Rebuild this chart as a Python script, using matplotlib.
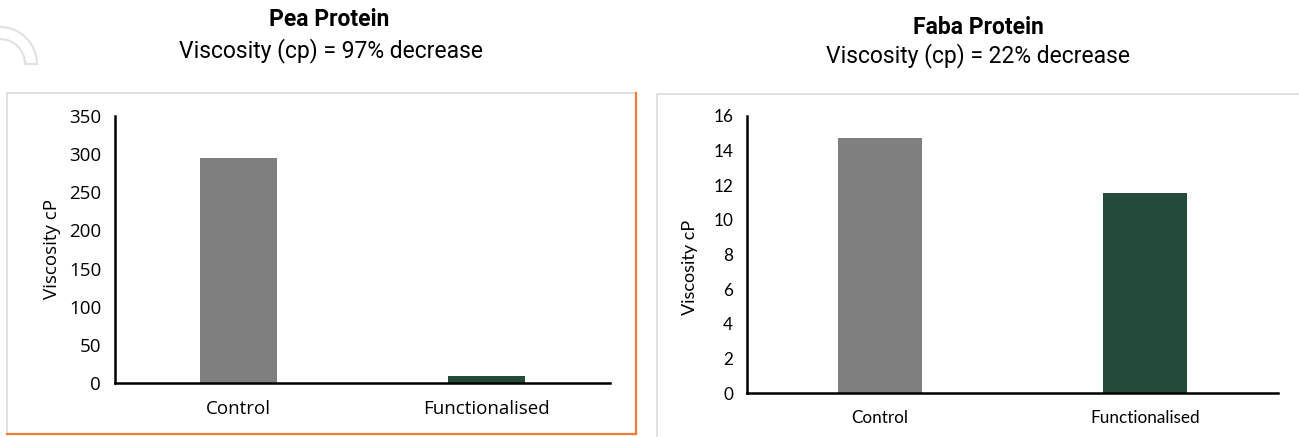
import matplotlib.pyplot as plt
from matplotlib.patches import Rectangle, Arc
from matplotlib.lines import Line2D

categories = ["Control", "Functionalised"]
pea_viscosity = [295, 9]
faba_viscosity = [14.75, 11.55]
pea_ticks = [0, 50, 100, 150, 200, 250, 300, 350]
faba_ticks = [0, 2, 4, 6, 8, 10, 12, 14, 16]

bar_colors = ["#7f7f7f", "#244a3a"]
W, H = 1299, 437


def fx(px):
    return px / W


def fy(py):
    return 1 - py / H


def draw_panel(ax, values, ticks, width, font, tick_size, label_size):
    ax.bar(range(len(categories)), values, width=width, color=bar_colors, zorder=2)
    ax.set_xlim(-0.5, 1.5)
    ax.set_ylim(ticks[0], ticks[-1])
    ax.set_yticks(ticks)
    ax.set_xticks(range(len(categories)))
    ax.set_xticklabels(categories, fontsize=tick_size, family=font)
    for lab in ax.get_yticklabels():
        lab.set_family(font)
        lab.set_fontsize(tick_size)
    ax.tick_params(length=0, pad=10)
    ax.tick_params(axis="x", pad=12)
    for side in ["top", "right"]:
        ax.spines[side].set_visible(False)
    for side in ["left", "bottom"]:
        ax.spines[side].set_linewidth(1.8)
        ax.spines[side].set_zorder(3)
    ax.set_ylabel("Viscosity cP", fontsize=label_size, family=font, labelpad=6)
    ax.set_facecolor("none")


fig = plt.figure(figsize=(12.99, 4.37), dpi=100)

# panel frames
fig.add_artist(Rectangle((fx(7), fy(434)), fx(629), 341 / H, transform=fig.transFigure,
                         facecolor="white", edgecolor="#dcdcdc", linewidth=1.2, zorder=0))
fig.add_artist(Line2D([fx(636), fx(636)], [fy(93), fy(434)], transform=fig.transFigure,
                      color="#ed7d31", linewidth=1.6))
fig.add_artist(Line2D([fx(7), fx(636)], [fy(434), fy(434)], transform=fig.transFigure,
                      color="#ed7d31", linewidth=1.6))
fig.add_artist(Rectangle((fx(657), fy(440)), fx(650), 346 / H, transform=fig.transFigure,
                         facecolor="white", edgecolor="#dcdcdc", linewidth=1.2, zorder=0))

# faint curved band in the top-left corner
for r in (25, 37):
    fig.add_artist(Arc((fx(0), fy(64)), fx(2 * r), 2 * r / H, theta1=0, theta2=90,
                       transform=fig.transFigure, color="#e2e2e2", linewidth=1.6))
fig.add_artist(Line2D([fx(25), fx(37)], [fy(64), fy(64)], transform=fig.transFigure,
                      color="#e2e2e2", linewidth=1.6))

ax1 = fig.add_axes([fx(115), fy(383), fx(495), 267 / H])
draw_panel(ax1, pea_viscosity, pea_ticks, 0.31, "Open Sans", 13.5, 13.5)

ax2 = fig.add_axes([fx(747), fy(393), fx(531), 277 / H])
draw_panel(ax2, faba_viscosity, faba_ticks, 0.316, "Lato", 12.3, 13)
ax2.yaxis.set_label_coords(-0.092, 0.455)

# titles
fig.text(fx(329), fy(20), "Pea Protein", ha="center", va="center",
         fontsize=16.5, fontweight="bold", family="Roboto")
fig.text(fx(331), fy(51), "Viscosity (cp) = 97% decrease", ha="center", va="center",
         fontsize=16.5, family="Roboto")
fig.text(fx(978), fy(28), "Faba Protein", ha="center", va="center",
         fontsize=16.5, fontweight="bold", family="Roboto")
fig.text(fx(978), fy(56), "Viscosity (cp) = 22% decrease", ha="center", va="center",
         fontsize=16.5, family="Roboto")

fig.savefig("out.png", dpi=100)
